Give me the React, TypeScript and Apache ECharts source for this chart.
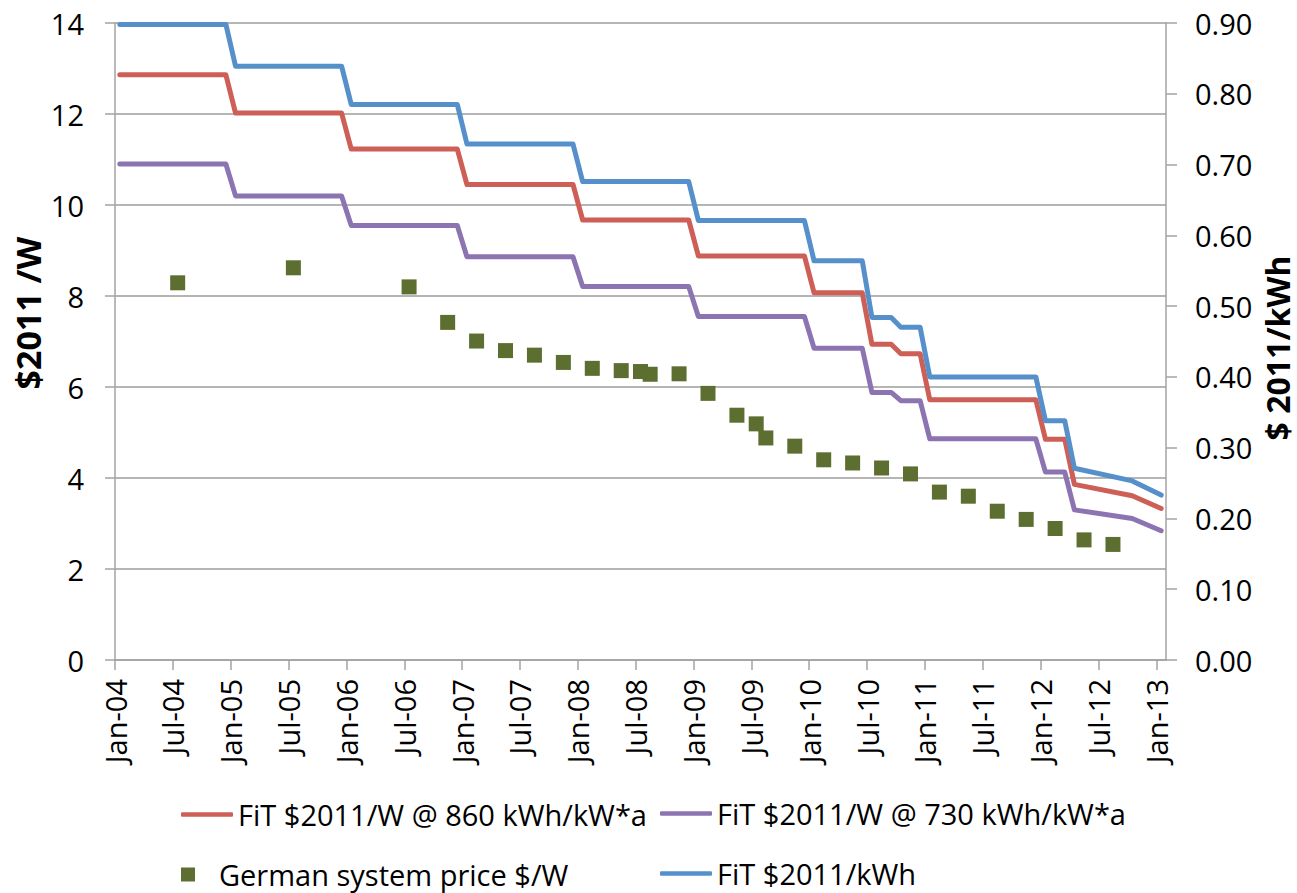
import React, { useEffect, useRef } from "react";
import * as echarts from "echarts";

// ---------- data ----------
// dates of the break points of the feed-in tariff lines (monthly data, mid-month)
const FIT_DATES = [
  "2004-01", "2004-12", "2005-01", "2005-12", "2006-01", "2006-12",
  "2007-01", "2007-12", "2008-01", "2008-12", "2009-01", "2009-12",
  "2010-01", "2010-06", "2010-07", "2010-09", "2010-10", "2010-12",
  "2011-01", "2011-12", "2012-01", "2012-03", "2012-04", "2012-10", "2013-01",
];
// FiT $2011/kWh (right axis)
const FIT_KWH = [
  0.898, 0.898, 0.839, 0.839, 0.785, 0.785,
  0.729, 0.729, 0.676, 0.676, 0.621, 0.621,
  0.564, 0.564, 0.484, 0.484, 0.47, 0.47,
  0.4, 0.4, 0.338, 0.338, 0.271, 0.253, 0.233,
];
// FiT $2011/W @ 860 kWh/kW*a (left axis)
const FIT_W_860 = [
  12.86, 12.86, 12.02, 12.02, 11.23, 11.23,
  10.45, 10.45, 9.67, 9.67, 8.88, 8.88,
  8.07, 8.07, 6.94, 6.94, 6.73, 6.73,
  5.72, 5.72, 4.85, 4.85, 3.86, 3.61, 3.33,
];
// FiT $2011/W @ 730 kWh/kW*a (left axis)
const FIT_W_730 = [
  10.9, 10.9, 10.2, 10.2, 9.55, 9.55,
  8.86, 8.86, 8.21, 8.21, 7.55, 7.55,
  6.85, 6.85, 5.88, 5.88, 5.7, 5.7,
  4.86, 4.86, 4.13, 4.13, 3.3, 3.11, 2.84,
];
// German system price $/W
const PRICE_DATES = [
  "2004-07", "2005-07", "2006-07", "2006-11", "2007-02", "2007-05",
  "2007-08", "2007-11", "2008-02", "2008-05", "2008-07", "2008-08",
  "2008-11", "2009-02", "2009-05", "2009-07", "2009-08", "2009-11",
  "2010-02", "2010-05", "2010-08", "2010-11", "2011-02", "2011-05",
  "2011-08", "2011-11", "2012-02", "2012-05", "2012-08",
];
const PRICE_VALUES = [
  8.29, 8.62, 8.2, 7.42, 7.01, 6.8,
  6.7, 6.54, 6.41, 6.36, 6.34, 6.28,
  6.29, 5.86, 5.38, 5.19, 4.88, 4.7,
  4.4, 4.33, 4.22, 4.09, 3.69, 3.6,
  3.27, 3.09, 2.89, 2.64, 2.54,
];
const X_TICK_LABELS = [
  "Jan-04", "Jul-04", "Jan-05", "Jul-05", "Jan-06", "Jul-06", "Jan-07",
  "Jul-07", "Jan-08", "Jul-08", "Jan-09", "Jul-09", "Jan-10", "Jul-10",
  "Jan-11", "Jul-11", "Jan-12", "Jul-12", "Jan-13",
];
const SERIES_NAMES = [
  "FiT $2011/W @ 860 kWh/kW*a",
  "FiT $2011/W @ 730 kWh/kW*a",
  "German system price $/W",
  "FiT $2011/kWh",
];

// months since Jan-2004, data sit at mid-month
const toX = (d: string) => {
  const [y, m] = d.split("-").map(Number);
  return (y - 2004) * 12 + (m - 1) + 0.5;
};

const FONT = "'Open Sans', sans-serif";
const FS = 29;
const RED = "#CD5F57";
const PURPLE = "#8C74B2";
const GREEN = "#5C6F30";
const BLUE = "#5690CB";
const AXIS_GRAY = "#A3A3A3";

export default function App() {
  const ref = useRef<HTMLDivElement>(null);

  useEffect(() => {
    if (!ref.current) return;
    const chart = echarts.init(ref.current, undefined, { renderer: "svg" });

    const lineSeries = (name: string, vals: number[], color: string, yAxisIndex: number) => ({
      name,
      type: "line",
      yAxisIndex,
      data: FIT_DATES.map((d, i) => [toX(d), vals[i]]),
      symbol: "none",
      showSymbol: false,
      lineStyle: { color, width: 5, cap: "round", join: "round" },
      itemStyle: { color },
      emphasis: { disabled: true },
    });

    const legendBase = {
      padding: 0,
      selectedMode: false,
      itemWidth: 52,
      textStyle: { fontSize: FS, fontFamily: FONT, color: "#000" },
    };

    chart.setOption({
      animation: false,
      backgroundColor: "#fff",
      grid: { left: 115, right: 131, top: 23, bottom: 233 },
      xAxis: {
        type: "value",
        min: 0,
        max: 109,
        interval: 6,
        axisLine: { show: true, lineStyle: { color: AXIS_GRAY, width: 1.5 } },
        axisTick: { show: true, length: 10, lineStyle: { color: AXIS_GRAY, width: 1.5 } },
        splitLine: { show: false },
        axisLabel: {
          rotate: 90,
          margin: 19,
          fontSize: FS,
          fontFamily: FONT,
          color: "#000",
          padding: [10, 0, 0, 0],
          showMaxLabel: false,
          formatter: (v: number) => (v % 6 === 0 ? X_TICK_LABELS[v / 6] ?? "" : ""),
        },
      },
      yAxis: [
        {
          type: "value",
          position: "left",
          min: 0,
          max: 14,
          interval: 2,
          axisLine: { show: true, lineStyle: { color: AXIS_GRAY, width: 1.5 } },
          axisTick: { show: true, length: 10, lineStyle: { color: AXIS_GRAY, width: 1.5 } },
          splitLine: { show: true, lineStyle: { color: "#9C9C9C", width: 1.6 } },
          axisLabel: { margin: 31, fontSize: FS, fontFamily: FONT, color: "#000" },
        },
        {
          type: "value",
          position: "right",
          min: 0,
          max: 0.9,
          interval: 0.1,
          axisLine: { show: true, lineStyle: { color: AXIS_GRAY, width: 1.5 } },
          axisTick: { show: true, length: 11, lineStyle: { color: AXIS_GRAY, width: 1.5 } },
          splitLine: { show: false },
          axisLabel: {
            margin: 29,
            fontSize: FS,
            fontFamily: FONT,
            color: "#000",
            formatter: (v: number) => v.toFixed(2),
          },
        },
      ],
      legend: [
        {
          ...legendBase,
          left: 181,
          top: 800,
          itemHeight: 4.5,
          data: [{ name: SERIES_NAMES[0], icon: "roundRect", itemStyle: { color: RED } }],
        },
        {
          ...legendBase,
          left: 660,
          top: 799,
          itemHeight: 4.5,
          data: [{ name: SERIES_NAMES[1], icon: "roundRect", itemStyle: { color: PURPLE } }],
        },
        {
          ...legendBase,
          left: 181,
          top: 860,
          itemHeight: 14,
          data: [{ name: SERIES_NAMES[2], icon: "path://M0 0H10V10H0Z", itemStyle: { color: GREEN, opacity: 1 } }],
        },
        {
          ...legendBase,
          left: 660,
          top: 859,
          itemHeight: 4.5,
          data: [{ name: SERIES_NAMES[3], icon: "roundRect", itemStyle: { color: BLUE } }],
        },
      ],
      graphic: [
        {
          type: "text",
          x: 28,
          y: 313,
          rotation: Math.PI / 2,
          style: {
            text: "$2011 /W",
            fontSize: 34,
            fontWeight: "bold",
            fontFamily: FONT,
            fill: "#000",
            align: "center",
            verticalAlign: "middle",
          },
        },
        {
          type: "text",
          x: 1277,
          y: 348,
          rotation: Math.PI / 2,
          style: {
            text: "$ 2011/kWh",
            fontSize: 32,
            fontWeight: "bold",
            fontFamily: FONT,
            fill: "#000",
            align: "center",
            verticalAlign: "middle",
          },
        },
      ],
      series: [
        lineSeries(SERIES_NAMES[0], FIT_W_860, RED, 0),
        lineSeries(SERIES_NAMES[1], FIT_W_730, PURPLE, 0),
        {
          name: SERIES_NAMES[2],
          type: "scatter",
          yAxisIndex: 0,
          data: PRICE_DATES.map((d, i) => [toX(d), PRICE_VALUES[i]]),
          symbol: "rect",
          symbolSize: 15,
          itemStyle: { color: GREEN, opacity: 1 },
          emphasis: { disabled: true },
        },
        lineSeries(SERIES_NAMES[3], FIT_KWH, BLUE, 1),
      ],
    });

    return () => chart.dispose();
  }, []);

  return (
    <div
      ref={ref}
      style={{ position: "absolute", left: 0, top: 0, width: 1297, height: 893 }}
    />
  );
}
